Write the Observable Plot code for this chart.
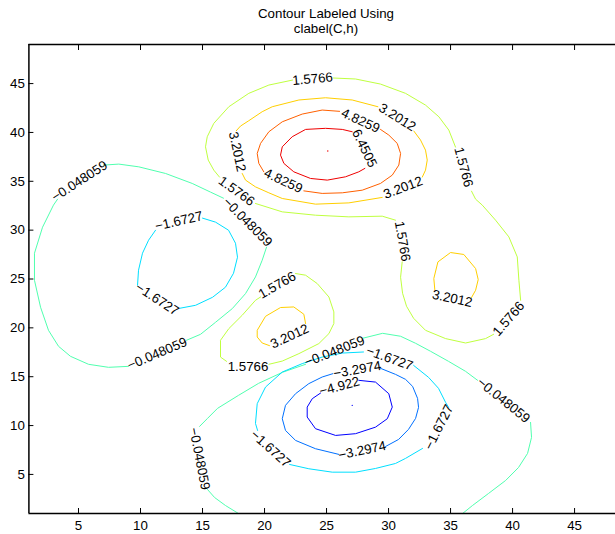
<!DOCTYPE html>
<html><head><meta charset="utf-8">
<script src="https://cdn.jsdelivr.net/npm/d3@7"></script>
<script src="https://cdn.jsdelivr.net/npm/@observablehq/plot@0.6"></script>
<style>
html,body{margin:0;padding:0;background:#fff;overflow:hidden;}
body{font-family:"Liberation Sans",Arial,Helvetica,sans-serif;}
#title{height:36px;box-sizing:border-box;padding-top:6px;padding-left:37px;width:615px;text-align:center;font-size:13.3px;line-height:15px;color:#000;}
</style></head><body>
<div id="title">Contour Labeled Using<br>clabel(C,h)</div>
<div id="chart"></div>
<script>
// contour levels and their (jet) colours
const levels = [6.4505, 4.8259, 3.2012, 1.5766, -0.048059, -1.6727, -3.2974, -4.922];
const levelColors = ["#ef0000", "#ff6000", "#ffcf00", "#bfff40", "#50ffaf", "#00dfff", "#0070ff", "#0000ff"];
const xTicks = [5, 10, 15, 20, 25, 30, 35, 40, 45];
const yTicks = [5, 10, 15, 20, 25, 30, 35, 40, 45];
const xDomain = [1, 48.3];
const yDomain = [1, 49];

// contour pieces, broken where labels sit
const c6_4505 = [
  [[27.07,40.07],[26.27,40.31],[24.92,40.42],[23.31,40.31],[22.23,39.56],[21.43,38.53],[21.29,37.68],[21.56,36.83],[22.36,35.97],[23.71,35.29],[25.06,35.12],[26.53,35.46],[27.6,35.97],[28.09,36.32]]
];
const c4_8259 = [
  [[29.35,40.31],[30.02,39.73],[30.7,38.88],[30.97,37.85],[30.83,36.66],[30.3,35.63],[29.35,34.78],[27.88,34.09],[26.27,33.82],[24.65,33.76],[23.17,34.02]],
  [[19.94,35.97],[19.54,36.83],[19.41,37.85],[19.68,38.88],[20.35,40.07],[21.43,41.09],[23.04,41.88],[24.65,42.29],[26.05,42.16]]
];
const c3_2012 = [
  [[17.72,40.17],[18.06,40.65],[18.73,41.2],[19.81,42.12],[20.62,42.63],[22.77,43.32],[24.92,43.55],[27.07,43.32],[29.14,42.63]],
  [[32.04,40.14],[32.58,39.22],[32.98,38.19],[33.12,37.17],[32.98,36.14],[32.72,35.43]],
  [[29.49,33.35],[26.8,32.79],[24.11,32.66],[21.43,33.24],[20.35,33.82],[19.27,34.43],[18.47,35.12],[18.2,35.8]],
  [[33.73,23.92],[33.65,25.05],[33.98,26.75],[35.0,27.71],[36.07,27.51],[37.02,26.07],[37.23,24.94],[37.02,23.85],[36.69,23.1]],
  [[23.31,20.44],[23.17,21.39],[22.36,22.14],[21.29,22.08],[20.08,21.18],[19.41,19.75],[19.41,19.06],[19.81,18.45],[20.4,18.18]]
];
const c1_5766 = [
  [[22.26,45.36],[20.35,44.85],[18.73,44.0],[17.12,42.63],[15.91,40.93],[15.38,39.56],[15.24,38.53],[15.46,37.17],[15.91,36.14],[16.37,35.43]],
  [[19.27,32.73],[21.43,31.87],[24.11,31.53],[26.8,31.36],[29.49,31.43],[30.56,31.02]],
  [[31.1,26.75],[30.97,25.18],[31.13,23.54],[31.45,22.21],[32.02,20.98],[32.98,19.75],[34.6,18.9],[36.21,18.45],[37.82,18.9],[38.47,19.34]],
  [[40.65,22.82],[40.51,24.87],[40.38,27.26],[39.7,29.31],[38.63,31.02],[37.56,32.56],[37.02,33.17],[36.69,33.99]],
  [[35.4,38.5],[34.86,40.24],[34.06,41.6],[32.98,42.8],[31.37,44.0],[29.35,44.95],[27.34,45.47],[25.56,45.57]],
  [[22.5,25.56],[23.31,25.39],[24.25,24.53],[25.19,23.16],[25.59,21.63],[25.59,20.44],[25.19,19.41],[24.38,18.39],[22.77,17.36],[21.43,16.6],[20.35,16.27]],
  [[16.94,16.57],[16.45,17.01],[16.45,18.73],[17.12,19.92],[18.2,21.29],[19.27,22.82],[19.68,23.16]]
];
const cm0_048059 = [
  [[7.04,36.66],[8.25,36.76],[9.86,36.48],[12.02,35.8],[14.17,34.78],[15.65,33.89],[16.69,33.27]],
  [[20.16,28.25],[19.81,26.92],[19.27,25.21],[18.47,23.51],[17.4,21.97],[16.05,20.57],[14.84,19.34],[13.71,18.73]],
  [[9.03,16.06],[7.42,15.96],[5.81,16.27],[4.35,17.09],[3.39,18.11],[2.58,19.75],[1.94,22.11],[1.45,24.87],[1.45,27.64],[2.1,30.3],[2.98,32.56],[3.31,33.17]],
  [[17.9,1.0],[16.85,1.82],[15.97,2.64],[15.4,3.46]],
  [[14.76,9.91],[15.4,10.73],[16.21,11.76],[17.9,13.09],[19.52,14.32],[21.45,15.45],[23.31,16.27]],
  [[27.9,18.93],[29.52,19.44],[30.97,19.14],[32.18,18.42],[33.39,17.6],[34.84,16.57],[36.21,15.55],[37.18,14.63]],
  [[41.45,10.32],[41.53,8.79],[41.21,7.15],[40.48,5.71],[39.44,4.38],[38.06,3.05],[36.77,1.82],[35.97,1.0]]
];
const cm1_6727 = [
  [[15.0,31.23],[16.05,30.82],[17.1,29.99],[17.66,28.66],[17.82,27.23],[17.5,25.59],[16.85,24.16],[15.81,23.13],[14.44,22.31],[13.15,22.0]],
  [[9.76,24.36],[9.84,25.9],[10.16,27.64],[10.65,28.97],[11.21,29.99]],
  [[32.02,16.16],[33.23,14.93],[34.03,13.81],[34.6,12.37],[34.84,11.86]],
  [[32.74,7.66],[31.37,6.64],[30.56,6.12],[28.95,5.61],[27.34,5.23],[25.46,5.23],[23.57,5.58],[22.02,6.02]],
  [[19.44,9.5],[19.27,10.22],[19.41,12.24],[20.08,13.94],[21.43,15.48],[23.04,16.34],[24.65,17.01],[26.27,17.42],[27.98,17.53]]
];
const cm3_2974 = [
  [[29.35,15.86],[30.56,15.24],[31.37,14.73],[31.94,14.01],[32.34,12.78],[32.42,11.86],[32.18,10.73],[31.61,9.61],[30.81,8.58],[29.76,7.86]],
  [[25.99,7.05],[24.11,7.63],[22.5,8.48],[21.69,9.5],[21.43,10.7],[21.69,12.07],[22.5,13.26],[23.57,14.29],[24.65,14.97],[25.51,15.31]]
];
const cm4_922 = [
  [[27.6,14.63],[28.95,14.45],[30.02,13.26],[30.3,11.89],[29.9,10.7],[28.95,9.84],[27.34,9.17],[25.73,8.99],[24.11,9.68],[23.44,10.87],[23.44,11.89],[23.85,12.75],[24.52,13.33]]
];

// label anchors: [x, y, angle, level]
const labelList = [
  [28.06,38.37,64,6.4505],
  [27.74,41.2,25,4.8259],[21.51,35.05,25,4.8259],
  [17.8,38.02,78,3.2012],[30.7,41.54,32,3.2012],[31.17,34.35,-21,3.2012],[35.14,23.0,12,3.2012],[22.02,19.14,-25,3.2012],
  [23.87,45.47,-5,1.5766],[17.74,33.99,36,1.5766],[31.13,28.87,80,1.5766],[39.68,20.93,-49,1.5766],[36.05,36.45,75,1.5766],[21.02,24.36,-30,1.5766],[18.67,16.01,0,1.5766],
  [5.08,35.02,-33,-0.048059],[18.63,30.82,45,-0.048059],[11.35,17.36,-23,-0.048059],[14.76,6.6,79,-0.048059],[25.65,17.6,-21.5,-0.048059],[39.27,12.58,39,-0.048059],
  [13.09,30.92,-13,-1.6727],[11.35,22.93,33,-1.6727],[30.08,16.88,20,-1.6727],[34.06,9.84,-63,-1.6727],[20.48,7.63,42,-1.6727],
  [27.48,15.72,-10,-3.2974],[27.88,7.45,-12,-3.2974],
  [26.05,14.01,-15,-4.922]
];
// extremum marks
const extrema = [[25.1,38.1,6.4505],[27.07,12.07,-4.922]];

const pieceSets = [[6.4505,c6_4505],[4.8259,c4_8259],[3.2012,c3_2012],[1.5766,c1_5766],[-0.048059,cm0_048059],[-1.6727,cm1_6727],[-3.2974,cm3_2974],[-4.922,cm4_922]];
const rows = [];
let pid = 0;
for (const [lv, pieces] of pieceSets) {
  for (const piece of pieces) {
    for (const [x, y] of piece) rows.push({x, y, level: lv, id: pid});
    pid++;
  }
}
const labels = labelList.map(([x, y, a, lv]) => ({x, y, a, text: String(lv).replace("-", "\u2212")}));
const dots = extrema.map(([x, y, lv]) => ({x, y, level: lv}));

const font = "'Liberation Sans', Arial, Helvetica, sans-serif";
const chart = Plot.plot({
  width: 615,
  height: 498,
  marginTop: 8,
  marginBottom: 21,
  marginLeft: 28.4,
  marginRight: 0,
  x: {domain: xDomain},
  y: {domain: yDomain},
  color: {type: "ordinal", domain: levels, range: levelColors},
  style: {fontFamily: font, fontSize: "13.3px", color: "black", background: "white", overflow: "visible"},
  marks: [
    Plot.line(rows, {x: "x", y: "y", z: "id", stroke: "level", strokeWidth: 1, curve: "linear"}),
    Plot.dot(dots, {x: "x", y: "y", r: 0.7, fill: "level", stroke: null}),
    Plot.text(labels, {x: "x", y: "y", text: "text", rotate: "a", fontSize: 13.3, fill: "black", textAnchor: "middle", lineAnchor: "middle"}),
    Plot.ruleY([yDomain[0], yDomain[1]], {stroke: "black", strokeWidth: 1.5}),
    Plot.ruleX([xDomain[0]], {stroke: "black", strokeWidth: 1.5}),
    Plot.axisX({anchor: "bottom", ticks: xTicks, tickSize: 5, dy: -5, tickFormat: () => "", label: null}),
    Plot.axisX({anchor: "top", ticks: xTicks, tickSize: 5, dy: 5, tickFormat: () => "", label: null}),
    Plot.axisY({anchor: "left", ticks: yTicks, tickSize: 5, dx: 5, tickFormat: () => "", label: null}),
    Plot.axisX({anchor: "bottom", ticks: xTicks, tickSize: 0, tickPadding: 7, label: null, fontSize: 13.3}),
    Plot.axisY({anchor: "left", ticks: yTicks, tickSize: 0, tickPadding: 4, label: null, fontSize: 13.3})
  ]
});
document.getElementById("chart").appendChild(chart);
</script>
</body></html>
